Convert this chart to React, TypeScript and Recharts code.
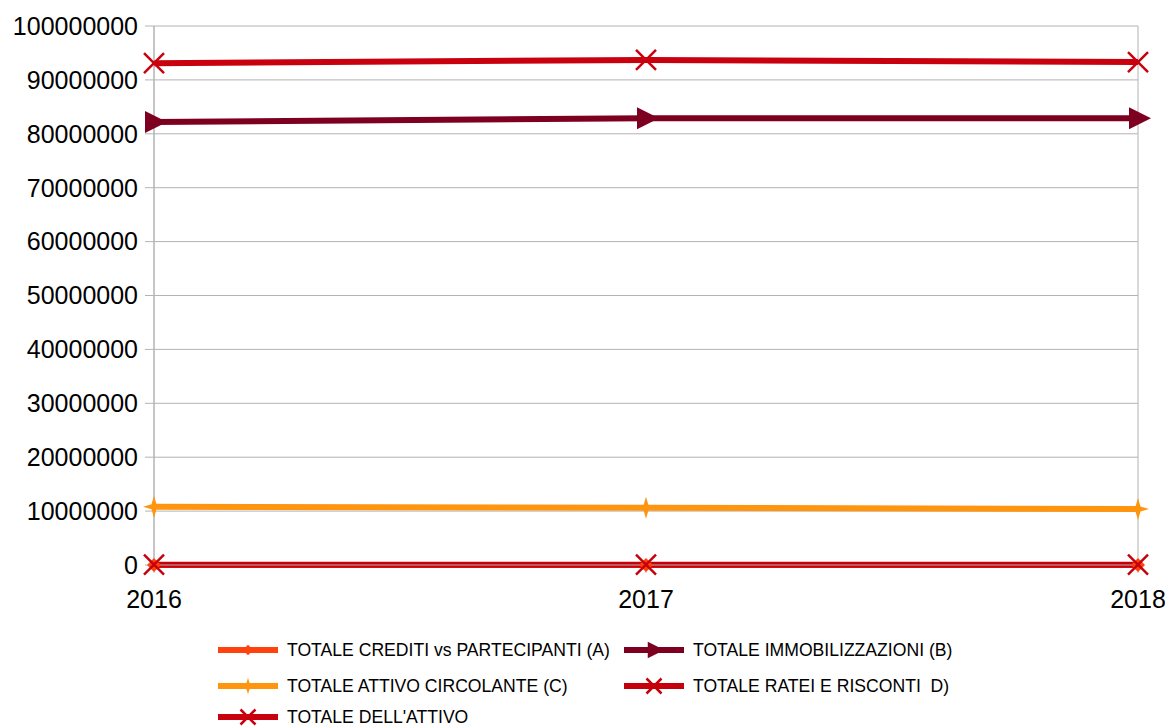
import { LineChart, Line, XAxis, YAxis, CartesianGrid } from "recharts";

const years = ["2016", "2017", "2018"];
const crediti = [0, 0, 0];
const immobilizzazioni = [82200000, 82900000, 82900000];
const circolante = [10800000, 10600000, 10400000];
const ratei = [60000, 55000, 50000];
const totaleAttivo = [93100000, 93700000, 93300000];
const yTicks = [0, 10000000, 20000000, 30000000, 40000000, 50000000, 60000000, 70000000, 80000000, 90000000, 100000000];

const series = [
  { key: "a", name: "TOTALE CREDITI vs PARTECIPANTI (A)", color: "#ff420e", marker: "diamond" },
  { key: "b", name: "TOTALE IMMOBILIZZAZIONI (B)", color: "#7e0021", marker: "triangle" },
  { key: "c", name: "TOTALE ATTIVO CIRCOLANTE (C)", color: "#ff950e", marker: "star" },
  { key: "d", name: "TOTALE RATEI E RISCONTI  D)", color: "#c5000b", marker: "x" },
  { key: "t", name: "TOTALE DELL'ATTIVO", color: "#c9000e", marker: "x" },
];

const data = years.map((y, i) => ({
  year: y,
  a: crediti[i],
  b: immobilizzazioni[i],
  c: circolante[i],
  d: ratei[i],
  t: totaleAttivo[i],
}));

function Marker({ type, cx, cy, color, s = 1 }: any) {
  if (type === "diamond") {
    const r = 7 * s;
    return <polygon points={`${cx},${cy - r} ${cx + r},${cy} ${cx},${cy + r} ${cx - r},${cy}`} fill={color} />;
  }
  if (type === "triangle") {
    const h = 11 * s;
    return <polygon points={`${cx - h + 2},${cy - h} ${cx + h + 2},${cy} ${cx - h + 2},${cy + h}`} fill={color} />;
  }
  if (type === "star") {
    const v = 11 * s;
    const w = 2.5 * s;
    return (
      <polygon
        points={`${cx},${cy - v} ${cx + w},${cy - w} ${cx + v},${cy} ${cx + w},${cy + w} ${cx},${cy + v} ${cx - w},${cy + w} ${cx - v},${cy} ${cx - w},${cy - w}`}
        fill={color}
      />
    );
  }
  const r = 10 * s;
  return (
    <g stroke={color} strokeWidth={2.5}>
      <line x1={cx - r} y1={cy - r} x2={cx + r} y2={cy + r} />
      <line x1={cx - r} y1={cy + r} x2={cx + r} y2={cy - r} />
    </g>
  );
}

const makeDot = (type: string, color: string) => (props: any) => (
  <Marker key={`${type}-${props.index}`} type={type} cx={props.cx} cy={props.cy} color={color} />
);

// legend drawn by hand, two columns like the original
const LegendBlock = () => {
  const pos = [
    [218, 650],
    [624, 650],
    [218, 686],
    [624, 686],
    [218, 717],
  ];
  return (
    <svg width={1165} height={727} style={{ position: "absolute", left: 0, top: 0, pointerEvents: "none" }}>
      {series.map((s, i) => {
        const [x, y] = pos[i];
        return (
          <g key={s.key}>
            <line x1={x} y1={y} x2={x + 60} y2={y} stroke={s.color} strokeWidth={6} />
            <Marker type={s.marker} cx={x + 30} cy={y} color={s.color} s={0.75} />
            <text
              x={x + 69}
              y={y + 6}
              fontSize={17.6}
              fill="#000"
              fontFamily="'Liberation Sans', sans-serif"
              style={{ whiteSpace: "pre" }}
            >
              {s.name}
            </text>
          </g>
        );
      })}
    </svg>
  );
};

export default function App() {
  return (
    <div style={{ position: "absolute", left: 0, top: 0, width: 1165, height: 727, background: "#fff" }}>
      <LineChart width={1165} height={727} data={data} margin={{ top: 26, right: 27, bottom: 0, left: 0 }}>
        <CartesianGrid
          stroke="#b3b3b3"
          strokeWidth={1}
          verticalCoordinatesGenerator={({ offset }: any) => [offset.left, offset.left + offset.width]}
        />
        <XAxis
          dataKey="year"
          padding={{ left: 0, right: 0 }}
          axisLine={{ stroke: "#b3b3b3" }}
          tickLine={{ stroke: "#b3b3b3" }}
          tickSize={8}
          height={162}
          tick={{ fontSize: 25, fill: "#000", fontFamily: "'Liberation Sans', sans-serif" }}
          interval={0}
          tickMargin={17}
        />
        <YAxis
          width={154}
          domain={[0, 100000000]}
          ticks={yTicks}
          interval={0}
          axisLine={{ stroke: "#b3b3b3" }}
          tickLine={{ stroke: "#b3b3b3" }}
          tickSize={9}
          tickMargin={7}
          tick={{ fontSize: 25, fill: "#000", fontFamily: "'Liberation Sans', sans-serif" }}
        />
        {series.map((s) => (
          <Line
            key={s.key}
            dataKey={s.key}
            name={s.name}
            stroke={s.color}
            strokeWidth={6}
            type="linear"
            dot={makeDot(s.marker, s.color)}
            activeDot={false}
            isAnimationActive={false}
          />
        ))}
      </LineChart>
      <LegendBlock />
    </div>
  );
}
